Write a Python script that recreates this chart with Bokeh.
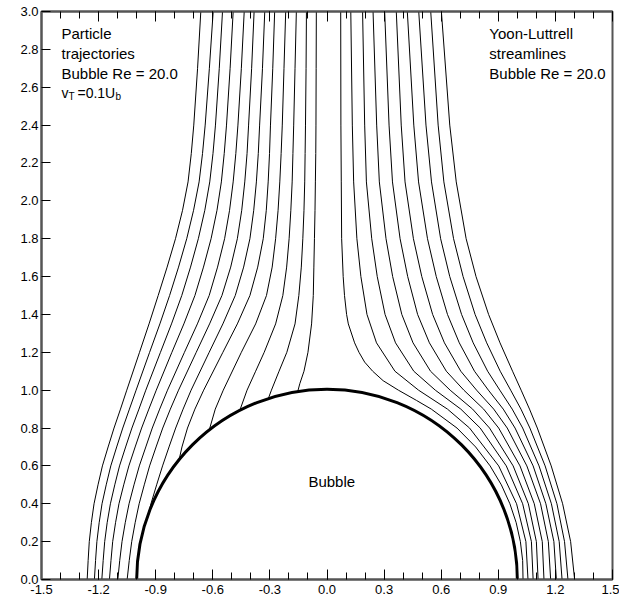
import numpy as np
from bokeh.plotting import figure
from bokeh.models import Range1d, LinearAxis, FixedTicker, PrintfTickFormatter
from bokeh.embed import file_html
from bokeh.resources import INLINE
from bokeh.core.properties import value

# ---------------- tick positions ----------------
x_major_ticks = [-1.5, -1.2, -0.9, -0.6, -0.3, 0.0, 0.3, 0.6, 0.9, 1.2, 1.5]
x_minor_ticks = [-1.5, -1.4, -1.3, -1.2, -1.1, -1.0, -0.9, -0.8, -0.7, -0.6, -0.5,
                 -0.4, -0.3, -0.2, -0.1, 0.0, 0.1, 0.2, 0.3, 0.4, 0.5, 0.6, 0.7,
                 0.8, 0.9, 1.0, 1.1, 1.2, 1.3, 1.4, 1.5]
y_ticks = [0.0, 0.2, 0.4, 0.6, 0.8, 1.0, 1.2, 1.4, 1.6, 1.8, 2.0, 2.2, 2.4, 2.6, 2.8, 3.0]

# ---------------- particle trajectories (left) ----------------
yl_full = [3.0, 2.7, 2.4, 2.25, 2.1, 1.95, 1.8, 1.65, 1.5, 1.35, 1.2, 1.0,
           0.9, 0.8, 0.7, 0.6, 0.5, 0.4, 0.3, 0.2, 0.1, 0.0]
left_x = [
    [-0.663, -0.680, -0.700, -0.713, -0.730, -0.759, -0.796, -0.840, -0.887, -0.935, -0.985, -1.052,
     -1.085, -1.119, -1.150, -1.180, -1.203, -1.224, -1.238, -1.249, -1.255, -1.260],
    [-0.598, -0.618, -0.640, -0.654, -0.672, -0.701, -0.737, -0.780, -0.827, -0.878, -0.932, -1.003,
     -1.038, -1.073, -1.105, -1.136, -1.160, -1.182, -1.197, -1.209, -1.216, -1.222],
    [-0.549, -0.566, -0.586, -0.599, -0.616, -0.642, -0.676, -0.717, -0.763, -0.817, -0.875, -0.952,
     -0.988, -1.025, -1.058, -1.090, -1.115, -1.138, -1.155, -1.168, -1.176, -1.183],
    [-0.493, -0.509, -0.528, -0.540, -0.555, -0.578, -0.609, -0.649, -0.694, -0.752, -0.815, -0.897,
     -0.936, -0.974, -1.008, -1.041, -1.068, -1.093, -1.111, -1.126, -1.135, -1.143],
    [-0.435, -0.450, -0.468, -0.479, -0.493, -0.512, -0.538, -0.575, -0.619, -0.681, -0.749, -0.838,
     -0.879, -0.918, -0.952, -0.986, -1.014, -1.040, -1.060, -1.077, -1.089, -1.099],
    [-0.383, -0.396, -0.412, -0.420, -0.432, -0.448, -0.471, -0.506, -0.552, -0.617, -0.687, -0.780,
     -0.823, -0.863, -0.898, -0.932, -0.960, -0.987, -1.008, -1.026, -1.039, -1.050],
    [-0.327, -0.339, -0.354, -0.361, -0.371, -0.385, -0.405, -0.438, -0.482, -0.547, -0.619, -0.714,
     -0.756, -0.795, -0.830, -0.864, -0.895, -0.925, -0.940],
    [-0.275, -0.285, -0.297, -0.302, -0.309, -0.319, -0.335, -0.364, -0.405, -0.471, -0.547, -0.648,
     -0.694, -0.733, -0.762, -0.778],
    [-0.217, -0.226, -0.235, -0.241, -0.248, -0.257, -0.270, -0.288, -0.318, -0.375, -0.450, -0.545,
     -0.587, -0.620],
    [-0.161, -0.168, -0.175, -0.179, -0.183, -0.190, -0.199, -0.212, -0.232, -0.270, -0.330, -0.375,
     -0.420, -0.460],
    [-0.108, -0.110, -0.113, -0.115, -0.117, -0.121, -0.127, -0.135, -0.148, -0.168, -0.211, -0.252,
     -0.292, -0.310],
    [-0.056, -0.057, -0.058, -0.059, -0.061, -0.063, -0.066, -0.069, -0.072, -0.081, -0.100, -0.121,
     -0.143, -0.155],
]
left_y = [
    yl_full, yl_full, yl_full, yl_full, yl_full, yl_full,
    [3.0, 2.7, 2.4, 2.25, 2.1, 1.95, 1.8, 1.65, 1.5, 1.35, 1.2, 1.0, 0.9, 0.8, 0.7, 0.6, 0.5, 0.4, 0.34],
    [3.0, 2.7, 2.4, 2.25, 2.1, 1.95, 1.8, 1.65, 1.5, 1.35, 1.2, 1.0, 0.9, 0.8, 0.7, 0.628],
    [3.0, 2.7, 2.4, 2.25, 2.1, 1.95, 1.8, 1.65, 1.5, 1.35, 1.2, 1.0, 0.9, 0.785],
    [3.0, 2.7, 2.4, 2.25, 2.1, 1.95, 1.8, 1.65, 1.5, 1.35, 1.2, 1.1, 1.0, 0.888],
    [3.0, 2.7, 2.4, 2.25, 2.1, 1.95, 1.8, 1.65, 1.5, 1.35, 1.2, 1.1, 1.0, 0.951],
    [3.0, 2.7, 2.4, 2.25, 2.1, 1.95, 1.8, 1.65, 1.5, 1.35, 1.2, 1.1, 1.034, 0.988],
]

# ---------------- Yoon-Luttrell streamlines (right) ----------------
yr_full = [3.0, 2.4, 2.1, 1.8, 1.6, 1.4, 1.25, 1.1, 1.0, 0.9, 0.8, 0.6, 0.4, 0.2, 0.0]
right_x = [
    [0.072, 0.073, 0.075, 0.077, 0.085, 0.092, 0.103, 0.112, 0.145, 0.168, 0.198, 0.240, 0.295,
     0.375, 0.470, 0.548, 0.683, 0.781, 0.857, 0.916, 0.961, 0.994, 1.016, 1.028, 1.030],
    [0.125, 0.133, 0.140, 0.157, 0.178, 0.210, 0.260, 0.357, 0.481, 0.633, 0.749, 0.902, 0.996, 1.045, 1.056],
    [0.187, 0.198, 0.207, 0.235, 0.264, 0.305, 0.360, 0.456, 0.569, 0.703, 0.805, 0.942, 1.028, 1.074, 1.083],
    [0.242, 0.261, 0.275, 0.310, 0.345, 0.393, 0.452, 0.544, 0.647, 0.765, 0.854, 0.978, 1.058, 1.100, 1.109],
    [0.303, 0.326, 0.344, 0.384, 0.424, 0.476, 0.538, 0.627, 0.719, 0.823, 0.902, 1.014, 1.089, 1.131, 1.140],
    [0.364, 0.390, 0.410, 0.454, 0.498, 0.555, 0.617, 0.703, 0.786, 0.876, 0.947, 1.050, 1.122, 1.163, 1.175],
    [0.422, 0.456, 0.481, 0.528, 0.574, 0.633, 0.695, 0.775, 0.848, 0.926, 0.988, 1.083, 1.150, 1.192, 1.205],
    [0.482, 0.520, 0.549, 0.597, 0.645, 0.707, 0.768, 0.844, 0.908, 0.973, 1.028, 1.114, 1.179, 1.220, 1.235],
    [0.545, 0.584, 0.614, 0.665, 0.715, 0.778, 0.839, 0.910, 0.965, 1.019, 1.066, 1.146, 1.208, 1.248, 1.266],
    [0.601, 0.645, 0.679, 0.731, 0.783, 0.849, 0.909, 0.975, 1.020, 1.064, 1.105, 1.178, 1.238, 1.280, 1.301],
]
right_y = [
    [3.0, 2.4, 2.1, 1.8, 1.6, 1.5, 1.4, 1.35, 1.25, 1.2, 1.148, 1.1, 1.05, 1.0, 0.946, 0.9,
     0.8, 0.7, 0.6, 0.5, 0.4, 0.3, 0.2, 0.1, 0.0],
    yr_full, yr_full, yr_full, yr_full, yr_full, yr_full, yr_full, yr_full, yr_full,
]

# bubble (unit radius half-circle centred at origin)
bubble_center_x = [0.0]
bubble_center_y = [0.0]
bubble_radius = 1.0

# annotation texts
left_lines = ["Particle", "trajectories", "Bubble Re = 20.0"]
left_lines_y = [2.884, 2.778, 2.672]
right_lines = ["Yoon-Luttrell", "streamlines", "Bubble Re = 20.0"]
right_lines_y = [2.884, 2.778, 2.672]
vt_y = 2.572
left_text_x = -1.395
right_text_x = 0.853

FONT = "Liberation Sans"
AXC = "#555555"

p = figure(width=619, height=602, x_range=Range1d(-1.5, 1.5), y_range=Range1d(0.0, 3.0),
           output_backend="svg", toolbar_location=None,
           x_axis_location=None, y_axis_location=None,
           min_border_left=41, min_border_right=7, min_border_top=11, min_border_bottom=23)
p.grid.visible = False
p.outline_line_color = AXC
p.outline_line_width = 2
p.background_fill_color = "white"
p.border_fill_color = "white"


def x_axis(show_labels):
    ax = LinearAxis(ticker=FixedTicker(ticks=x_major_ticks, minor_ticks=x_minor_ticks),
                    formatter=PrintfTickFormatter(format="%.1f"),
                    major_tick_in=10, major_tick_out=0, minor_tick_in=7, minor_tick_out=0,
                    axis_line_color=AXC, axis_line_width=2,
                    major_tick_line_color="black", minor_tick_line_color="black",
                    major_tick_line_width=1, minor_tick_line_width=1,
                    major_label_text_font=FONT, major_label_text_color="black",
                    major_label_text_font_size="13px" if show_labels else "1px",
                    major_label_standoff=5 if show_labels else 0)
    if not show_labels:
        ax.major_label_overrides = {t: "" for t in x_major_ticks}
    return ax


p.add_layout(x_axis(True), "below")
p.add_layout(x_axis(False), "above")

yax = LinearAxis(ticker=FixedTicker(ticks=y_ticks, minor_ticks=[]),
                 formatter=PrintfTickFormatter(format="%.1f"),
                 major_tick_in=9, major_tick_out=0, minor_tick_in=0, minor_tick_out=0,
                 axis_line_color=AXC, axis_line_width=2,
                 major_tick_line_color="black", major_tick_line_width=1,
                 major_label_text_font=FONT, major_label_text_color="black",
                 major_label_text_font_size="13px", major_label_standoff=3)
p.add_layout(yax, "left")

# curves
p.multi_line(xs=left_x, ys=left_y, line_color="black", line_width=1)
p.multi_line(xs=right_x, ys=right_y, line_color="black", line_width=1)
p.arc(x=bubble_center_x, y=bubble_center_y, radius=bubble_radius,
      start_angle=0, end_angle=np.pi, line_color="black", line_width=3)

# texts
tf = value(FONT)
common = dict(text_font=tf, text_baseline="middle", text_align="left", text_color="black")
p.text(x=[left_text_x] * len(left_lines), y=left_lines_y, text=left_lines,
       text_font_size="15px", **common)
p.text(x=[right_text_x] * len(right_lines), y=right_lines_y, text=right_lines,
       text_font_size="15px", **common)

# v_T =0.1U_b
p.text(x=[left_text_x], y=[vt_y], text=["v"], text_font_size="14px", **common)
p.text(x=[left_text_x], y=[vt_y], text=["T"], text_font_size="10px", x_offset=7, y_offset=4, **common)
p.text(x=[left_text_x], y=[vt_y], text=["=0.1U"], text_font_size="14px", x_offset=16, **common)
p.text(x=[left_text_x], y=[vt_y], text=["b"], text_font_size="10px", x_offset=54, y_offset=4, **common)

p.text(x=[0.025], y=[0.52], text=["Bubble"], text_font=tf, text_font_size="15px",
       text_baseline="middle", text_align="center", text_color="black")

open("out.html", "w").write(file_html(p, INLINE))
